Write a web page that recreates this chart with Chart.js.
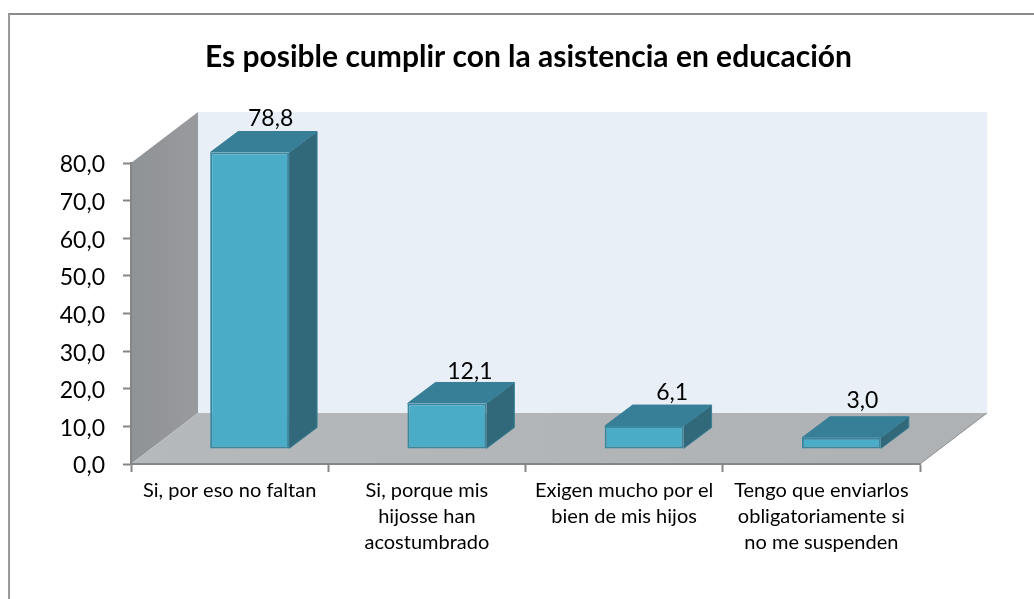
<!DOCTYPE html>
<html>
<head>
<meta charset="utf-8">
<title>Asistencia en educación</title>
<script src="https://cdn.jsdelivr.net/npm/chart.js@4"></script>
<style>
    html, body { margin: 0; padding: 0; background: #fff; overflow: hidden; }
    #frame { position: absolute; left: 8px; top: 13px; width: 1026px; height: 586px; border-top: 2px solid #8a8a8a; border-left: 2px solid #9a9a9a; box-sizing: border-box; }
    #chartBox { position: absolute; left: 0; top: 0; width: 1034px; height: 599px; }
</style>
</head>
<body>
<div id="frame"></div>
<div id="chartBox"><canvas id="asistenciaChart" width="1034" height="599"></canvas></div>
<script>
// Datos
const categorias = [
    ['Si, por eso no faltan'],
    ['Si, porque mis', 'hijosse han', 'acostumbrado'],
    ['Exigen mucho por el', 'bien de mis hijos'],
    ['Tengo que enviarlos', 'obligatoriamente si', 'no me suspenden']
];
const valores = [78.8, 12.1, 6.1, 3.0];
const marcasY = [0, 10, 20, 30, 40, 50, 60, 70, 80];
const titulo = 'Es posible cumplir con la asistencia en educación';

const formatoComa = v => v.toFixed(1).replace('.', ',');

// Profundidad del falso 3D
const FONDO_X = 67, FONDO_Y = -51;
const BARRA_X = 20, BARRA_Y = -15;
const PROF_X = 28, PROF_Y = -21;

// Corrimiento de cada etiqueta de valor respecto a su barra
const ajusteEtiquetaX = [21, 23, 28, 21];
const ajusteEtiquetaY = [-13, -11, -12, -16];

function poligono(ctx, puntos, relleno) {
    ctx.beginPath();
    puntos.forEach((p, i) => i ? ctx.lineTo(p[0], p[1]) : ctx.moveTo(p[0], p[1]));
    ctx.closePath();
    ctx.fillStyle = relleno;
    ctx.fill();
}

const caja3d = {
    id: 'caja3d',
    afterLayout(chart) {
        // el titulo va centrado un poco a la derecha del lienzo
        chart.titleBlock.left = 23;
        chart.titleBlock.right = 1034;
    },
    beforeDraw(chart) {
        const { ctx, chartArea: a } = chart;
        const gradPared = ctx.createLinearGradient(a.left, 0, a.left + FONDO_X, 0);
        gradPared.addColorStop(0, '#8f9296');
        gradPared.addColorStop(1, '#989a9d');
        const gradPiso = ctx.createLinearGradient(a.left, 0, a.right, 0);
        gradPiso.addColorStop(0, '#b6b9bc');
        gradPiso.addColorStop(1, '#afb2b5');

        // pared del fondo
        poligono(ctx, [
            [a.left + FONDO_X, a.top + FONDO_Y],
            [a.right + FONDO_X, a.top + FONDO_Y],
            [a.right + FONDO_X, a.bottom + FONDO_Y],
            [a.left + FONDO_X, a.bottom + FONDO_Y]
        ], '#e8eff6');
        // pared izquierda
        poligono(ctx, [
            [a.left, a.top],
            [a.left + FONDO_X, a.top + FONDO_Y],
            [a.left + FONDO_X, a.bottom + FONDO_Y],
            [a.left, a.bottom]
        ], gradPared);
        // piso
        poligono(ctx, [
            [a.left, a.bottom],
            [a.left + FONDO_X, a.bottom + FONDO_Y],
            [a.right + FONDO_X, a.bottom + FONDO_Y],
            [a.right, a.bottom]
        ], gradPiso);

        ctx.strokeStyle = '#8c8e90';
        ctx.lineWidth = 1;
        ctx.beginPath();
        ctx.moveTo(a.right, a.bottom);
        ctx.lineTo(a.right + FONDO_X, a.bottom + FONDO_Y);
        ctx.stroke();
    },
    beforeDatasetsDraw(chart) {
        const { ctx } = chart;
        ctx.save();
        ctx.translate(BARRA_X, BARRA_Y);
        chart.getDatasetMeta(0).data.forEach(el => {
            const izq = el.x - el.width / 2, der = el.x + el.width / 2;
            // cara lateral y cara superior
            poligono(ctx, [
                [der, el.y], [der + PROF_X, el.y + PROF_Y],
                [der + PROF_X, el.base + PROF_Y], [der, el.base]
            ], '#31697a');
            poligono(ctx, [
                [izq, el.y], [izq + PROF_X, el.y + PROF_Y],
                [der + PROF_X, el.y + PROF_Y], [der, el.y]
            ], '#377f97');
            ctx.strokeStyle = '#3a7f96';
            ctx.lineWidth = 1;
            ctx.beginPath();
            ctx.moveTo(izq, el.y);
            ctx.lineTo(izq + PROF_X, el.y + PROF_Y);
            ctx.lineTo(der + PROF_X, el.y + PROF_Y);
            ctx.lineTo(der + PROF_X, el.base + PROF_Y);
            ctx.lineTo(der, el.base);
            ctx.moveTo(der + PROF_X, el.y + PROF_Y);
            ctx.lineTo(der, el.y);
            ctx.stroke();
        });
    },
    afterDatasetsDraw(chart) {
        const { ctx } = chart;
        ctx.restore();
        // etiquetas de valor
        ctx.save();
        ctx.font = '23px Lato';
        ctx.fillStyle = '#000';
        ctx.textAlign = 'center';
        ctx.textBaseline = 'middle';
        chart.getDatasetMeta(0).data.forEach((el, i) => {
            ctx.fillText(formatoComa(valores[i]), el.x + BARRA_X + ajusteEtiquetaX[i], el.y + BARRA_Y + PROF_Y + ajusteEtiquetaY[i]);
        });
        ctx.restore();
    }
};

new Chart(document.getElementById('asistenciaChart'), {
    type: 'bar',
    data: {
        labels: categorias,
        datasets: [{
            data: valores,
            backgroundColor: '#4aacc7',
            borderColor: '#3a87a0',
            borderWidth: 2,
            borderSkipped: false,
            barPercentage: 0.4,
            categoryPercentage: 1,
            clip: false
        }]
    },
    plugins: [caja3d],
    options: {
        responsive: false,
        animation: false,
        layout: { padding: { left: 0, right: 114, top: 0, bottom: 0 } },
        plugins: {
            legend: { display: false },
            tooltip: { enabled: false },
            title: {
                display: true,
                text: titulo,
                color: '#000',
                font: { family: 'Lato', size: 30, weight: 'bold', lineHeight: 1.2 },
                padding: { top: 39, bottom: 88 }
            }
        },
        scales: {
            x: {
                grid: { drawOnChartArea: false, offset: true, tickLength: 8, color: '#868686', tickWidth: 2 },
                border: { color: '#868686', width: 2 },
                ticks: {
                    color: '#000',
                    font: { family: 'Lato', size: 20, lineHeight: 1.3 },
                    maxRotation: 0,
                    autoSkip: false,
                    padding: 6
                },
                afterFit(scale) { scale.height = 135; }
            },
            y: {
                min: 0,
                max: 80,
                grid: { drawOnChartArea: false, tickLength: 8, color: '#868686', tickWidth: 2 },
                border: { color: '#868686', width: 2 },
                afterBuildTicks(scale) { scale.ticks = marcasY.map(v => ({ value: v })); },
                ticks: {
                    color: '#000',
                    font: { family: 'Lato', size: 23 },
                    padding: 18,
                    labelOffset: 2,
                    callback: v => formatoComa(v)
                },
                afterFit(scale) { scale.width = 131; }
            }
        }
    }
});
</script>
</body>
</html>
